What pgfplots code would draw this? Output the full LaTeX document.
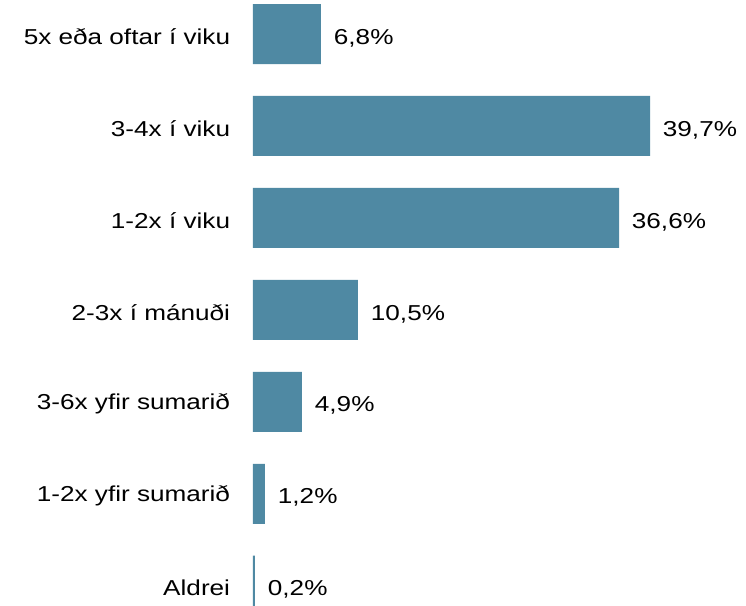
\documentclass[border=0pt]{standalone}
\usepackage{fontspec}
\setmainfont[FakeStretch=1.21]{Liberation Sans}
\usepackage{pgfplots}
\pgfplotsset{compat=1.18}
\definecolor{barblue}{RGB}{79,137,163}

\begin{document}
\begin{tikzpicture}
\begin{axis}[
  name=ax,
  scale only axis,
  width=369.75pt, height=453.75pt,
  xbar, bar width=45pt,
  xmin=0, xmax=49.3,
  ymin=-0.37, ymax=6.21,
  y dir=reverse,
  hide x axis,
  axis y line*=left,
  y axis line style={draw=none},
  ytick style={draw=none},
  major tick length=0pt,
  ytick={0,1,2,3,4,5,6},
  yticklabels={5x eða oftar í viku, 3-4x í viku, 1-2x í viku, 2-3x í mánuði,
    3-6x yfir sumarið, 1-2x yfir sumarið, Aldrei},
  yticklabel style={font=\fontsize{16.2}{19}\selectfont, inner xsep=0pt,
    xshift=-17pt, yshift=-1.8pt},
  nodes near coords,
  point meta=explicit symbolic,
  nodes near coords style={font=\fontsize{16.2}{19}\selectfont, anchor=west,
    inner xsep=0pt, xshift=9.5pt, yshift=-3pt, text=black},
  clip=true,
]
\addplot[fill=barblue, draw=none] coordinates {
  (6.8,0) [6,8\%]
  (39.7,1) [39,7\%]
  (36.6,2) [36,6\%]
  (10.5,3) [10,5\%]
  (4.9,4) [4,9\%]
  (1.2,5) [1,2\%]
  (0.2,6) [0,2\%]
};
\end{axis}
\path[use as bounding box] ([xshift=-189.75pt]ax.south west) rectangle (ax.north east);
\end{tikzpicture}
\end{document}
